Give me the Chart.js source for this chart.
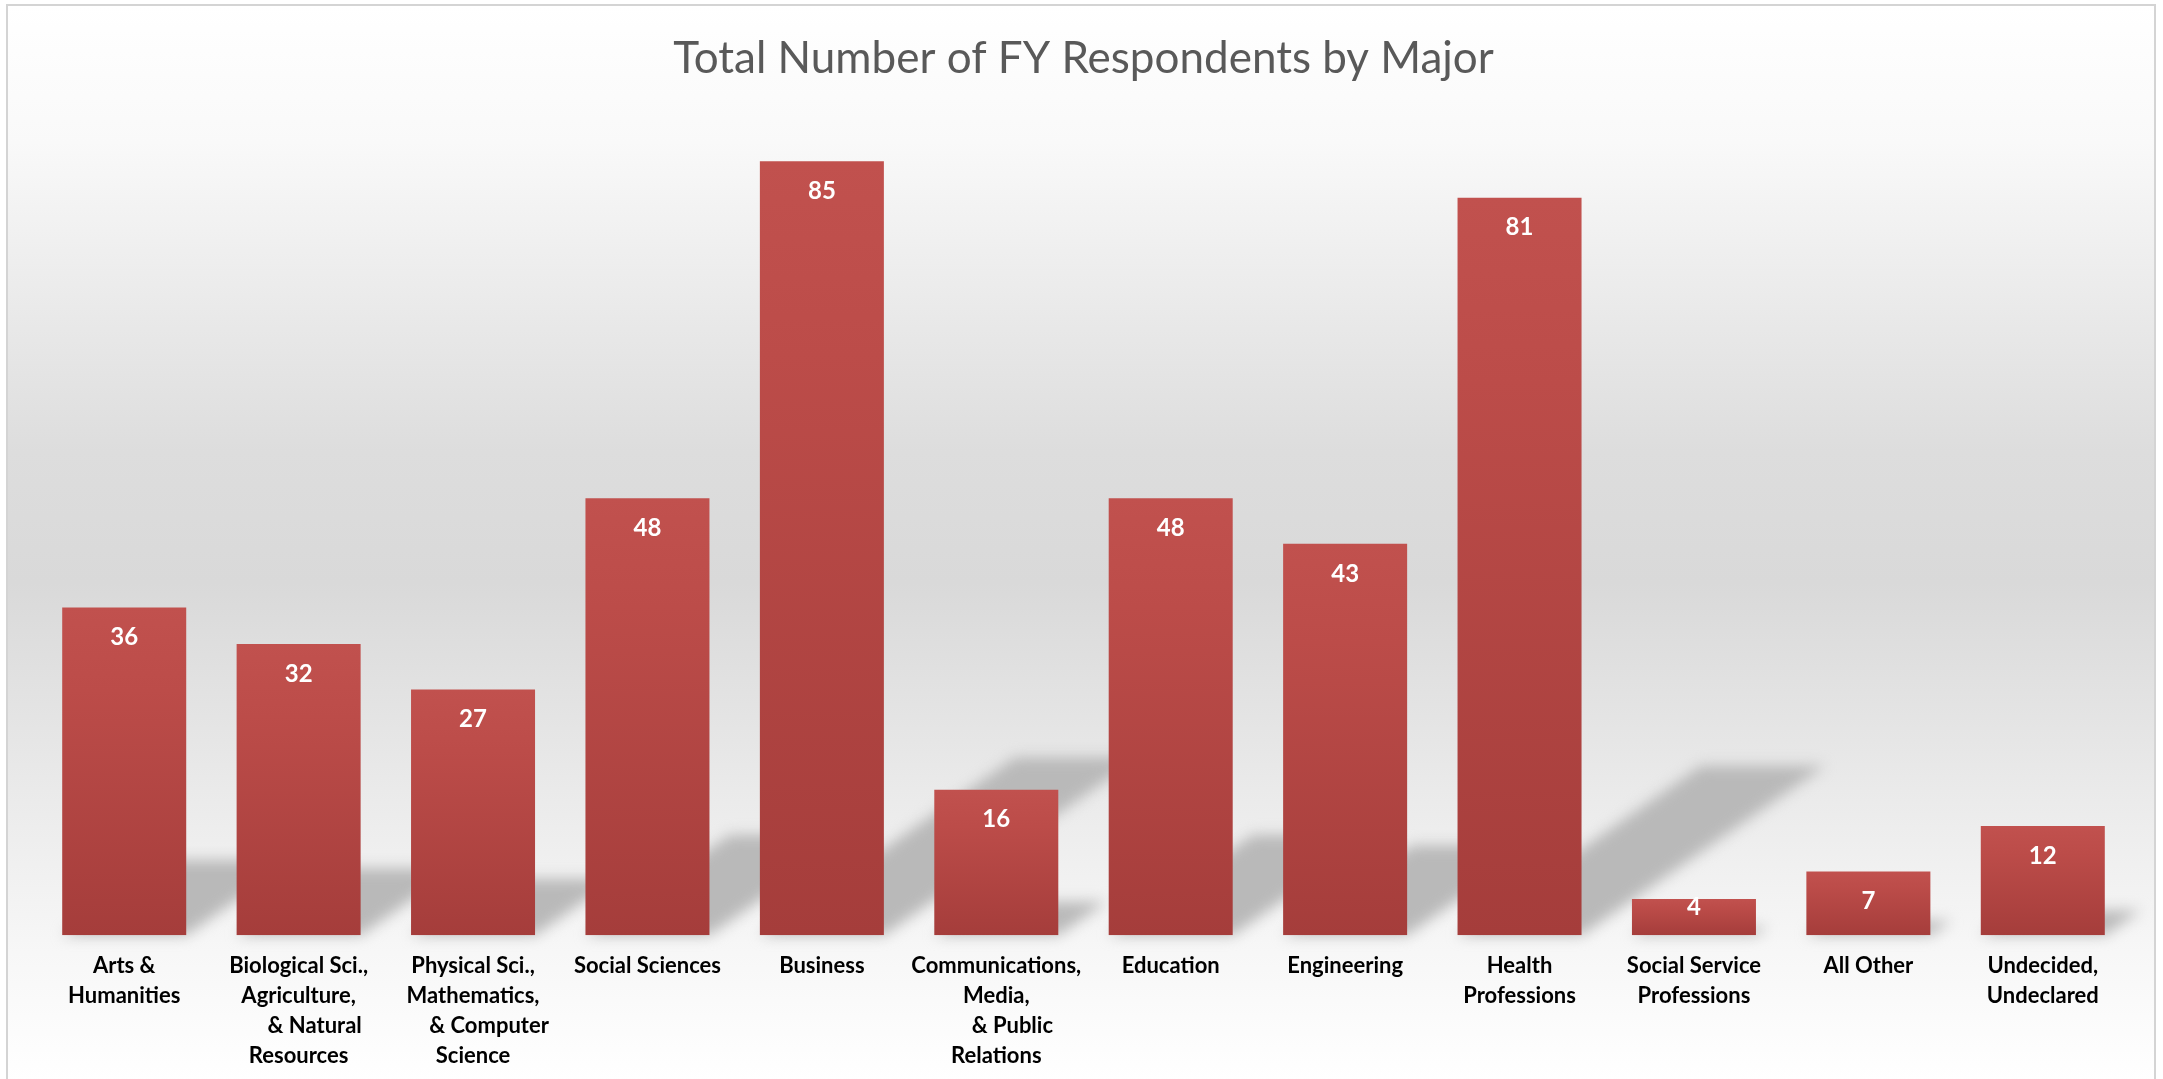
<!DOCTYPE html>
<html>
<head>
<meta charset="utf-8">
<title>Total Number of FY Respondents by Major</title>
<script src="https://cdn.jsdelivr.net/npm/chart.js@4.4.1/dist/chart.umd.min.js"></script>
<style>
    html, body { margin: 0; padding: 0; background: #ffffff; overflow: hidden; }
    /* chart box with the grey fade behind the bars */
    #frame {
        position: absolute; left: 6px; top: 4px; width: 2150px; height: 1100px;
        border: 2px solid #d4d4d4; box-sizing: border-box;
        background: linear-gradient(to bottom,
            #ffffff 0px, #f9f9f9 136px, #eeeeee 256px, #dddddd 446px,
            #d9d9d9 576px, #ebebeb 796px, #f7f7f7 946px, #ffffff 1075px);
    }
    /* canvas runs a little past the window bottom, like the cropped slide */
    #wrap { position: absolute; left: 0; top: 0; width: 2163px; height: 1097px; }
</style>
</head>
<body>
<div id="frame"></div>
<div id="wrap"><canvas id="majorChart"></canvas></div>

<script>
    // --- data ---
    const majors = [
        ['Arts &', 'Humanities'],
        ['Biological Sci.,', 'Agriculture,', '      & Natural', 'Resources'],
        ['Physical Sci.,', 'Mathematics,', '      & Computer', 'Science'],
        ['Social Sciences'],
        ['Business'],
        ['Communications,', 'Media,', '      & Public', 'Relations'],
        ['Education'],
        ['Engineering'],
        ['Health', 'Professions'],
        ['Social Service', 'Professions'],
        ['All Other'],
        ['Undecided,', 'Undeclared']
    ];
    const respondents = [36, 32, 27, 48, 85, 16, 48, 43, 81, 4, 7, 12];
    const axisMin = 0;
    const axisMax = 90;

    const FONT = 'Lato, "Open Sans", sans-serif';

    // gradient per bar, lighter on top and darker at the base
    function barFill(c) {
        if (c.type !== 'data') return '#B84845';
        const y = c.chart.scales.y;
        if (!y) return '#B84845';
        const top = y.getPixelForValue(c.raw);
        const bottom = y.getPixelForValue(0);
        if (!isFinite(top) || !isFinite(bottom)) return '#B84845';
        const g = c.chart.ctx.createLinearGradient(0, top, 0, bottom);
        g.addColorStop(0, '#C1514E');
        g.addColorStop(0.25, '#BC4C49');
        g.addColorStop(1, '#A53D3B');
        return g;
    }

    // slanted grey shadow thrown up and right from every bar
    const perspectiveShadow = {
        id: 'perspectiveShadow',
        beforeDatasetsDraw(chart) {
            const ctx = chart.ctx;
            const meta = chart.getDatasetMeta(0);
            ctx.save();
            ctx.filter = 'blur(7px)';
            ctx.fillStyle = '#b9b9b9';
            meta.data.forEach(bar => {
                const h = bar.base - bar.y;
                const half = bar.width / 2;
                const dx = h * 0.33, dy = h * 0.23;
                ctx.beginPath();
                ctx.moveTo(bar.x - half, bar.base);
                ctx.lineTo(bar.x + half, bar.base);
                ctx.lineTo(bar.x + half + dx, bar.base - dy);
                ctx.lineTo(bar.x - half + dx, bar.base - dy);
                ctx.closePath();
                ctx.fill();
            });
            ctx.restore();
        }
    };

    // value written inside the top of each bar
    const valueLabels = {
        id: 'valueLabels',
        afterDatasetsDraw(chart) {
            const ctx = chart.ctx;
            const ds = chart.data.datasets[0];
            ctx.save();
            ctx.font = 'bold 24px ' + FONT;
            ctx.fillStyle = '#ffffff';
            ctx.textAlign = 'center';
            ctx.textBaseline = 'middle';
            chart.getDatasetMeta(0).data.forEach((bar, i) => {
                const cy = Math.min(bar.y + 30, bar.base - 28);
                ctx.fillText(String(ds.data[i]), bar.x, cy);
            });
            ctx.restore();
        }
    };

    const ctx = document.getElementById('majorChart').getContext('2d');
    new Chart(ctx, {
        type: 'bar',
        data: {
            labels: majors,
            datasets: [{
                label: 'Respondents',
                data: respondents,
                backgroundColor: barFill,
                borderWidth: 0,
                categoryPercentage: 1,
                barPercentage: 0.711
            }]
        },
        options: {
            responsive: true,
            maintainAspectRatio: false,
            animation: false,
            layout: { padding: { left: 37, right: 33, top: 0, bottom: 10 } },
            plugins: {
                legend: { display: false },
                tooltip: { enabled: false },
                title: {
                    display: true,
                    text: 'Total Number of FY Respondents by Major',
                    color: '#595959',
                    font: { family: FONT, size: 44, weight: 'normal' },
                    padding: { top: 32, bottom: 31 }
                }
            },
            scales: {
                y: {
                    display: false,
                    min: axisMin,
                    max: axisMax
                },
                x: {
                    grid: { display: false, drawTicks: false },
                    border: { display: false },
                    ticks: {
                        color: '#000000',
                        padding: 16,
                        maxRotation: 0,
                        autoSkip: false,
                        font: { family: FONT, size: 22, weight: 'bold', lineHeight: 1.36 }
                    }
                }
            }
        },
        plugins: [perspectiveShadow, valueLabels]
    });
</script>
</body>
</html>
